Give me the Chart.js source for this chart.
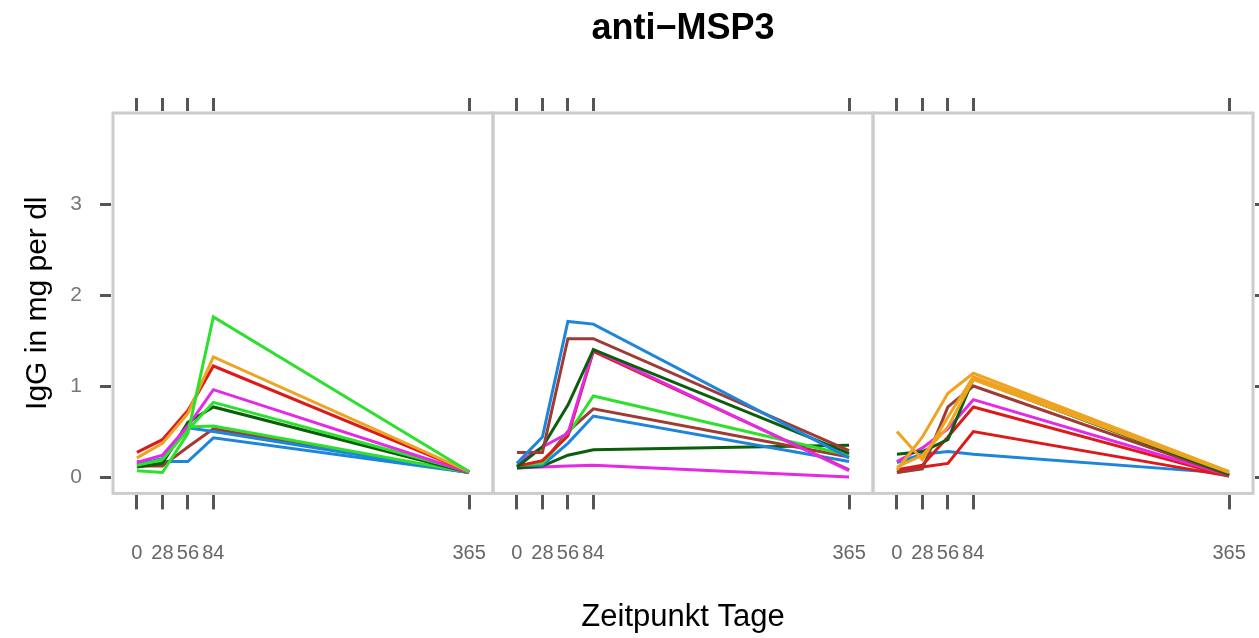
<!DOCTYPE html>
<html>
<head>
<meta charset="utf-8">
<script src="https://cdn.jsdelivr.net/npm/chart.js@4.4.1/dist/chart.umd.min.js"></script>
<style>
  html, body { margin: 0; padding: 0; background: #fff; }
</style>
</head>
<body>
<canvas id="chart" width="1259" height="638"></canvas>
<script>
'use strict';

// time points (days) and tick labels
var days = [0, 28, 56, 84, 365];
var xTickLabels = ['0', '28', '56', '84', '365'];
var yTickValues = [0, 1, 2, 3];

// colours
var GREEN = '#2ee02e', ORANGE = '#eea321', RED = '#dd1a1a', MAGENTA = '#e629e6',
    DKGREEN = '#0b5e0b', BROWN = '#a03a35', BLUE = '#1e85dc';

// panel 1
var leftColors = [GREEN, ORANGE, RED, MAGENTA, GREEN, DKGREEN, GREEN, BLUE, BROWN, BLUE];
var leftSeries = [
  [0.07, 0.05, 0.48, 1.76, 0.06],
  [0.21, 0.37, 0.70, 1.32, 0.06],
  [0.27, 0.41, 0.73, 1.22, 0.06],
  [0.16, 0.24, 0.56, 0.96, 0.05],
  [0.13, 0.19, 0.52, 0.82, 0.06],
  [0.11, 0.15, 0.60, 0.77, 0.05],
  [0.12, 0.17, 0.55, 0.56, 0.05],
  [0.14, 0.20, 0.54, 0.50, 0.05],
  [0.12, 0.12, 0.33, 0.53, 0.05],
  [0.17, 0.17, 0.17, 0.43, 0.05]
];

// panel 2
var midColors = [BLUE, BROWN, DKGREEN, MAGENTA, RED, GREEN, BROWN, BLUE, DKGREEN, MAGENTA];
var midSeries = [
  [0.15, 0.44, 1.71, 1.68, 0.21],
  [0.27, 0.27, 1.52, 1.52, 0.29],
  [0.11, 0.33, 0.79, 1.40, 0.26],
  [0.15, 0.33, 0.48, 1.40, 0.07],
  [0.12, 0.18, 0.45, 1.38, 0.08],
  [0.13, 0.15, 0.47, 0.89, 0.24],
  [0.13, 0.15, 0.50, 0.75, 0.22],
  [0.13, 0.13, 0.37, 0.67, 0.17],
  [0.10, 0.12, 0.24, 0.30, 0.35],
  [0.10, 0.11, 0.12, 0.13, 0.00]
];

// panel 3
var rightColors = [ORANGE, ORANGE, ORANGE, DKGREEN, BROWN, MAGENTA, RED, RED, BLUE];
var rightSeries = [
  [0.08, 0.44, 0.92, 1.14, 0.06],
  [0.50, 0.19, 0.66, 1.10, 0.06],
  [0.11, 0.24, 0.55, 1.07, 0.05],
  [0.25, 0.28, 0.41, 1.08, 0.03],
  [0.05, 0.09, 0.77, 1.00, 0.02],
  [0.17, 0.32, 0.53, 0.85, 0.02],
  [0.08, 0.13, 0.44, 0.77, 0.01],
  [0.05, 0.11, 0.15, 0.50, 0.01],
  [0.16, 0.25, 0.28, 0.25, 0.04]
];

var FONT = "'Liberation Sans', Arial, sans-serif";
var TICK_COLOR = '#555555';
var X_MIN = -26.3, X_MAX = 391.3;
var Y_MIN = -0.18, Y_MAX = 4.0;

function buildDatasets(series, colors, axisId) {
  return series.map(function(vals, i) {
    return {
      data: days.map(function(d, k) { return { x: d, y: vals[k] }; }),
      xAxisID: axisId,
      yAxisID: 'y',
      borderColor: colors[i],
      borderWidth: 3,
      pointRadius: 0,
      fill: false,
      tension: 0
    };
  });
}

function xAxis(position, withLabels) {
  return {
    type: 'linear',
    position: position,
    stack: position === 'bottom' ? 'xb' : 'xt',
    min: X_MIN,
    max: X_MAX,
    afterBuildTicks: function(scale) {
      scale.ticks = days.map(function(d) { return { value: d }; });
    },
    afterFit: function(scale) {
      scale.height = position === 'bottom' ? 105 : 62.8;
      // labels sit well inside the panel, no extra side padding wanted
      scale.paddingLeft = 0;
      scale.paddingRight = 0;
    },
    grid: {
      display: true,
      drawOnChartArea: false,
      drawTicks: true,
      tickLength: position === 'bottom' ? 16 : 15,
      tickWidth: 3,
      tickColor: TICK_COLOR
    },
    border: { display: true, width: 4, color: 'rgba(0,0,0,0)' },
    ticks: {
      display: withLabels,
      autoSkip: false,
      maxRotation: 0,
      padding: 32.5,
      color: '#666666',
      font: { family: FONT, size: 20 },
      callback: function(v) {
        var idx = days.indexOf(v);
        return idx >= 0 ? xTickLabels[idx] : '';
      }
    }
  };
}

function yAxis(position) {
  var isLeft = position === 'left';
  return {
    type: 'linear',
    position: position,
    min: Y_MIN,
    max: Y_MAX,
    afterBuildTicks: function(scale) {
      scale.ticks = yTickValues.map(function(v) { return { value: v }; });
    },
    afterFit: function(scale) {
      scale.width = isLeft ? 113 : 6;
      scale.paddingTop = 0;
      scale.paddingBottom = 0;
    },
    grid: {
      display: true,
      drawOnChartArea: false,
      drawTicks: true,
      tickLength: 13,
      tickWidth: 3,
      tickColor: TICK_COLOR
    },
    border: { display: true, width: 4, color: 'rgba(0,0,0,0)' },
    title: {
      display: isLeft,
      text: 'IgG in mg per dl',
      color: '#000',
      font: { family: FONT, size: 30 },
      padding: { top: 20, bottom: 0 }
    },
    ticks: {
      display: isLeft,
      padding: 18,
      color: '#777777',
      font: { family: FONT, size: 21 },
      callback: function(v) { return String(v); }
    }
  };
}

// light grey frame round each panel
var panelFrame = {
  id: 'panelFrame',
  afterDatasetsDraw: function(chart) {
    var ctx = chart.ctx, area = chart.chartArea;
    ctx.save();
    ctx.strokeStyle = '#cccccc';
    ctx.lineWidth = 3;
    ['x1', 'x2', 'x3'].forEach(function(id) {
      var s = chart.scales[id];
      ctx.strokeRect(s.left, area.top, s.right - s.left, area.bottom - area.top);
    });
    ctx.restore();
  }
};

var datasets = []
  .concat(buildDatasets(leftSeries, leftColors, 'x1'))
  .concat(buildDatasets(midSeries, midColors, 'x2'))
  .concat(buildDatasets(rightSeries, rightColors, 'x3'));

new Chart(document.getElementById('chart'), {
  type: 'line',
  data: { datasets: datasets },
  plugins: [panelFrame],
  options: {
    responsive: false,
    animation: false,
    layout: { padding: 0, autoPadding: false },
    plugins: {
      legend: { display: false },
      tooltip: { enabled: false },
      title: {
        display: true,
        text: 'anti\u2212MSP3',
        fullSize: false,
        color: '#000',
        font: { family: FONT, size: 36, weight: 'bold' },
        padding: { top: 7, bottom: 0 }
      },
      subtitle: {
        display: true,
        position: 'bottom',
        text: 'Zeitpunkt Tage',
        fullSize: false,
        color: '#000',
        font: { family: FONT, size: 31 },
        padding: { top: 0, bottom: 2.4 }
      }
    },
    scales: {
      x1: xAxis('bottom', true),
      x2: xAxis('bottom', true),
      x3: xAxis('bottom', true),
      t1: xAxis('top', false),
      t2: xAxis('top', false),
      t3: xAxis('top', false),
      y: yAxis('left'),
      y2: yAxis('right')
    }
  }
});
</script>
</body>
</html>
